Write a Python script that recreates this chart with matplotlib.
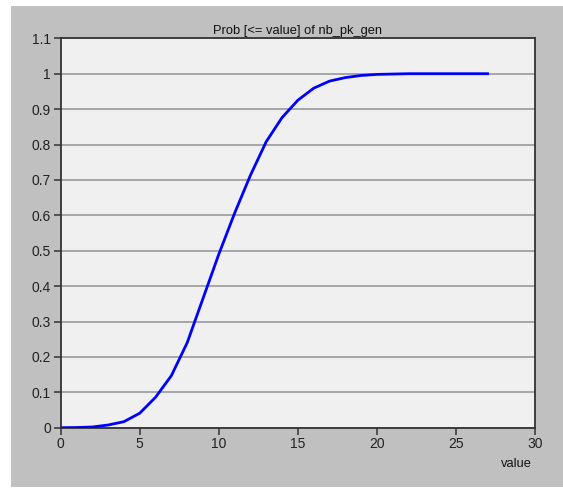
import matplotlib
matplotlib.use('Agg')
import matplotlib.pyplot as plt
from matplotlib.patches import Rectangle

# Distribuição acumulada de nb_pk_gen
values = list(range(0, 28))
prob_le = [0.0, 0.0005, 0.002, 0.0076, 0.017, 0.041, 0.086, 0.147, 0.24, 0.365,
           0.49, 0.606, 0.713, 0.808, 0.876, 0.925, 0.959, 0.979, 0.989, 0.995,
           0.998, 0.999, 1.0, 1.0, 1.0, 1.0, 1.0, 1.0]

x_ticks = [0, 5, 10, 15, 20, 25, 30]
y_ticks = [0, 0.1, 0.2, 0.3, 0.4, 0.5, 0.6, 0.7, 0.8, 0.9, 1, 1.1]
y_tick_labels = ['0', '0.1', '0.2', '0.3', '0.4', '0.5', '0.6', '0.7', '0.8', '0.9', '1', '1.1']

plt.rcParams['font.family'] = ['Liberation Sans', 'DejaVu Sans']

fig = plt.figure(figsize=(5.63, 4.88), dpi=100, facecolor='white')

# Moldura cinza atrás do gráfico
frame = Rectangle((11 / 563, 1 / 488), 1 - 11 / 563, 481 / 488,
                  transform=fig.transFigure, facecolor='#c0c0c0',
                  edgecolor='none', zorder=-10)
fig.add_artist(frame)

ax = fig.add_axes([60.7 / 563, 1 - 427.7 / 488, (535 - 60.7) / 563, (427.7 - 38.3) / 488])
ax.set_facecolor('#f0f0f0')

ax.plot(values, prob_le, color='#0000ff', linewidth=2.0, zorder=3)

ax.set_xlim(0, 30)
ax.set_ylim(0, 1.1)
ax.set_xticks(x_ticks)
ax.set_yticks(y_ticks)
ax.set_yticklabels(y_tick_labels)

ax.yaxis.grid(True, color='#999999', linewidth=1.2)
ax.set_axisbelow(True)

for spine in ax.spines.values():
    spine.set_color('#333333')
    spine.set_linewidth(1.3)

ax.tick_params(direction='out', length=5, width=1.1, color='#333333',
               labelsize=10, labelcolor='#222222', pad=2)

ax.set_title('Prob [<= value] of nb_pk_gen', fontsize=9.3, color='#111111', pad=3)
ax.set_xlabel('value', fontsize=9.3, color='#111111', loc='right', labelpad=5)
ax.xaxis.label.set_x(0.994)

fig.savefig('out.png', dpi=100, facecolor=fig.get_facecolor())
